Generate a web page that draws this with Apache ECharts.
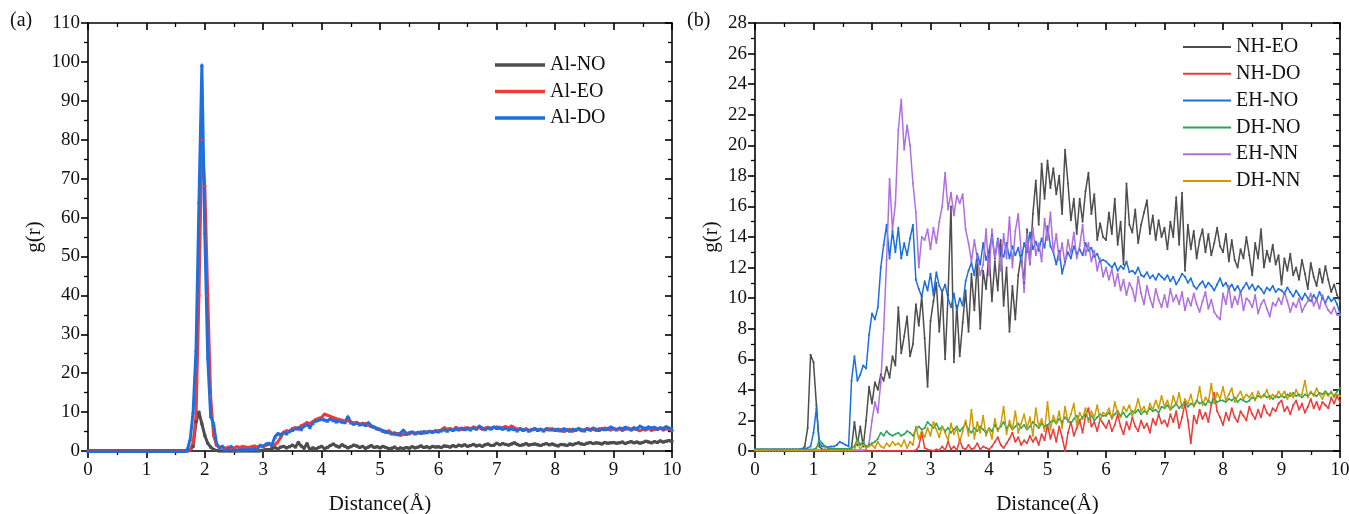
<!DOCTYPE html>
<html>
<head>
<meta charset="utf-8">
<script src="https://cdn.jsdelivr.net/npm/echarts@6/dist/echarts.min.js"></script>
<style>html,body{margin:0;padding:0;background:#fff;}#c{width:1349px;height:514px;}</style>
</head>
<body>
<div id="c"></div>
<script>
// ---------- DATA ----------
// sampling grid: distance 0..10 Å, step 0.05 (201 points)
const STEP = 0.05;
const xTicksA = [0,1,2,3,4,5,6,7,8,9,10];
const yTicksA = [0,10,20,30,40,50,60,70,80,90,100,110];
const yTicksB = [0,2,4,6,8,10,12,14,16,18,20,22,24,26,28];

// Panel (a)
const alNO = [
0,0,0,0,0,0,0,0,0,0,0,0,0,0,0,0,0,0,0,0,
0,0,0,0,0,0,0,0,0,0,0,0,0,0,0,0.2,1.2,7.5,10,7,
4,2,1,0.4,0.1,0,0,0,0,0,0,0,0,0,0,0,0,0,0,0.05,
0.2,0.4,0.3,0.6,0.9,0.5,1.0,1.2,0.8,1.1,1.5,1.0,2.2,1.3,0.7,1.9,0.3,0.8,0.5,0.9,
1.2,0.6,0.9,1.4,1.8,1.3,1.0,1.6,1.2,0.8,1.1,1.5,1.3,0.9,1.2,0.7,1.0,1.4,0.9,1.1,
0.8,1.2,0.9,0.6,0.7,1.0,0.5,0.8,0.6,0.9,0.7,1.1,0.8,1.0,1.3,0.9,1.1,0.8,1.2,1.0,
1.1,0.9,1.3,1.2,1.0,1.4,1.1,1.5,1.3,1.6,1.2,1.4,1.7,1.3,1.5,1.2,1.6,1.8,1.4,1.5,
2.0,1.6,1.9,1.7,1.5,1.8,2.1,1.7,1.4,1.6,1.9,1.5,1.7,1.8,1.6,1.4,1.7,1.9,1.6,1.8,
1.5,1.3,1.7,1.6,1.4,1.8,1.6,1.9,2.1,1.8,1.7,2.0,2.2,1.9,2.1,2.0,1.8,2.2,2.0,2.1,
2.2,2.0,2.1,2.3,1.9,2.2,2.4,2.1,2.3,2.0,2.2,2.5,2.3,2.1,2.4,2.2,2.6,2.3,2.5,2.7,
2.4];
const alEO = [
0,0,0,0,0,0,0,0,0,0,0,0,0,0,0,0,0,0,0,0,
0,0,0,0,0,0,0,0,0,0,0,0,0,0,0,0.3,2,9,40,80,
68,40,14,4,1.5,0.8,1.2,0.6,1.0,0.5,0.8,1.1,0.9,1.2,1.0,0.9,1.1,1.3,1.0,1.4,
1.2,1.5,1.8,1.4,1.6,2.3,3.5,4.8,5.2,5.0,5.8,6.0,5.6,6.5,6.8,7.3,7.0,7.6,8.1,8.4,
8.6,9.5,9.2,8.9,8.6,8.3,8.1,7.9,7.6,7.8,7.5,7.2,7.4,7.0,6.8,7.1,6.6,6.3,6.0,5.7,
5.5,5.0,4.8,5.2,4.6,4.3,4.5,4.0,4.3,4.6,4.4,4.8,4.5,4.7,4.9,4.6,4.8,5.0,4.9,5.1,
5.2,5.4,6.0,5.6,5.8,5.4,6.1,5.7,5.5,5.9,6.0,5.7,6.2,5.8,6.0,5.6,5.9,6.1,5.7,6.0,
6.2,5.8,6.0,6.3,5.9,6.4,6.0,5.6,5.8,5.4,5.7,5.3,5.5,5.8,5.4,5.6,5.2,5.5,5.7,5.4,
5.6,5.2,5.5,5.0,5.3,5.6,5.1,5.4,5.7,5.2,5.5,5.8,5.4,5.6,5.3,5.7,5.5,5.9,5.6,5.4,
5.8,5.5,5.7,5.3,5.6,5.9,5.4,5.7,5.5,5.2,5.6,5.4,5.8,5.3,5.6,5.5,5.9,5.4,5.7,5.5,
5.3];
const alDO = [
0,0,0,0,0,0,0,0,0,0,0,0,0,0,0,0,0,0,0,0,
0,0,0,0,0,0,0,0,0,0,0,0,0,0,0.3,3,10,26,64,99.3,
56,24,9,7,2,0.8,1.2,0.4,0.6,1.2,0.3,0.2,0.3,0.4,0.3,0.5,0.4,0.6,0.5,1.5,
1.2,1.8,2.0,1.6,3.6,4.5,4.2,4.8,4.5,5.1,5.4,5.8,6.0,5.6,6.5,6.8,6.1,7.2,7.8,8.0,
8.2,8.0,7.8,8.3,7.9,7.6,7.8,7.5,7.4,8.9,7.3,7.0,7.2,6.8,7.1,6.7,7.3,6.5,6.2,5.8,
5.6,5.2,5.0,4.8,4.5,4.7,4.3,4.6,5.4,4.4,4.7,4.9,4.5,4.8,4.6,5.0,4.8,5.1,4.9,5.2,
5.0,5.3,5.5,5.2,5.6,5.4,5.7,5.5,5.9,5.6,5.8,5.5,6.0,5.7,6.4,5.9,5.6,6.0,5.8,6.2,
5.9,6.1,5.7,5.9,5.5,5.8,5.6,5.3,5.7,5.4,5.6,5.2,5.5,5.7,5.4,5.6,5.3,5.8,5.5,5.7,
5.4,5.6,5.3,5.7,5.5,5.2,5.6,5.4,5.8,5.5,5.3,5.7,5.5,5.9,5.6,5.4,5.8,5.6,5.7,6.2,
5.8,5.5,5.9,5.7,6.1,5.8,5.6,6.0,5.7,6.4,6.0,5.8,6.2,5.9,6.1,5.7,6.0,5.8,6.3,5.9,
5.6];

// Panel (b)
const nhEO = [
0.1,0.1,0.1,0.1,0.1,0.1,0.1,0.1,0.1,0.1,0.1,0.1,0.1,0.1,0.1,0.1,0.1,0.3,1.5,6.3,
5.8,3.0,0.3,0.1,0.1,0.1,0.1,0.1,0.1,0.1,0.1,0.1,0.1,0.2,1.9,0.4,1.6,0.3,2.0,4.2,
3.1,4.5,4.0,5.0,4.6,5.5,4.8,6.2,5.6,9.4,6.4,7.5,8.8,6.2,7.0,9.6,8.2,10.1,7.4,4.2,
8.5,9.8,11.0,7.8,10.5,6.0,10.2,16.0,5.8,9.5,6.2,8.4,10.5,7.8,11.6,9.2,12.5,8.0,11.8,10.6,
13.0,9.8,12.4,10.5,13.8,9.5,12.0,7.8,10.8,8.6,11.5,12.8,11.0,14.5,12.2,15.5,17.7,14.8,18.8,16.5,
19.0,17.2,18.5,16.8,18.0,15.5,19.7,17.5,15.1,16.5,14.2,16.5,15.0,17.0,18.2,15.5,16.8,13.8,14.9,14.0,
13.8,15.6,14.2,16.5,13.5,15.0,12.2,17.5,14.8,14.3,15.8,13.6,14.8,15.6,16.4,14.2,15.4,13.8,15.1,14.0,
14.6,13.2,15.0,14.0,16.6,13.5,16.9,11.8,14.8,13.2,14.4,12.6,13.8,14.5,13.0,14.2,12.8,13.6,14.6,13.4,
13.0,14.2,12.4,13.8,12.5,12.0,13.2,12.6,14.0,12.8,11.5,13.6,12.6,14.5,12.0,13.1,12.4,13.5,12.2,12.8,
10.9,12.6,11.8,12.9,11.5,12.0,11.2,12.5,11.6,10.6,12.3,11.4,10.8,11.9,11.0,12.1,11.2,10.4,10.9,10.2,
9.8];
const nhDO = [
0,0,0,0,0,0,0,0,0,0,0,0,0,0,0,0,0,0,0,0,
0,0,0,0,0,0,0,0,0,0,0,0,0,0,0,0,0,0,0,0,
0,0,0,0,0,0,0,0,0,0,0,0,0,0,0.02,0.05,0.3,1.2,0.2,0.1,
0.05,0.02,0.1,0.05,0.3,0.05,0.6,0.1,0.3,0.05,0.7,0.2,0.1,0.4,0.1,0.2,0.5,0.1,0.3,0.2,
0.1,0.3,0.6,0.9,0.4,0.2,0.5,0.8,1.2,0.6,0.9,0.4,0.7,0.5,1.0,0.6,0.9,0.4,1.1,0.7,
1.7,0.8,1.4,0.6,1.6,0.9,0.0,1.2,1.9,1.0,1.5,2.0,1.2,2.3,2.8,1.6,1.9,1.3,2.1,1.8,
1.5,2.0,1.3,1.7,2.4,1.6,1.1,1.9,1.4,2.2,1.6,1.3,2.0,1.5,1.8,1.2,2.1,1.7,2.4,1.8,
2.0,1.6,2.4,1.9,2.6,1.5,2.2,3.1,2.0,0.5,2.3,1.8,2.7,2.1,2.5,1.9,3.0,3.8,2.6,2.2,
1.7,2.5,2.0,2.8,2.2,1.9,2.6,2.3,2.0,2.9,2.4,2.1,2.7,2.2,3.0,2.5,2.3,2.8,2.6,3.1,
3.3,2.6,2.9,2.4,3.0,3.3,2.7,3.1,2.5,2.9,3.4,2.8,3.2,2.7,3.2,3.0,2.8,3.5,3.1,3.6,
3.2];
const ehNO = [
0.1,0.1,0.1,0.1,0.1,0.1,0.1,0.1,0.1,0.1,0.1,0.1,0.1,0.1,0.1,0.1,0.15,0.15,0.2,0.3,
1.2,2.8,0.5,0.3,0.3,0.25,0.3,0.3,0.4,0.6,0.5,0.4,0.3,4.6,6.2,4.6,5.0,5.6,5.4,7.6,
9.0,8.6,9.4,12.0,13.5,14.8,12.6,14.4,13.0,14.6,12.6,13.6,12.8,13.9,14.8,11.2,10.6,10.1,11.1,10.5,
11.6,10.2,11.7,10.8,10.4,10.9,10.0,9.4,10.3,9.2,10.0,9.5,11.1,11.8,12.3,11.5,12.9,12.2,13.6,12.5,
13.1,14.1,12.6,13.9,13.0,12.7,13.6,12.6,13.4,12.8,13.3,12.4,13.6,13.0,14.3,13.2,13.7,13.1,13.9,13.3,
14.7,13.4,13.0,12.2,13.1,11.6,12.4,13.0,12.6,13.4,12.9,13.2,12.8,13.6,13.1,13.3,12.7,12.9,12.4,12.5,
12.4,12.2,12.0,12.3,11.8,12.1,11.9,12.4,11.7,11.8,11.6,12.0,11.5,11.4,11.7,11.3,11.5,11.2,11.6,11.4,
11.2,11.5,11.1,11.4,10.9,11.2,11.6,11.4,11.0,11.3,10.8,10.6,10.9,11.1,10.7,11.0,10.8,10.5,10.9,11.3,
10.8,11.0,10.6,10.9,10.5,10.8,10.4,10.7,11.0,10.6,10.9,10.5,10.8,10.6,10.3,10.7,10.5,10.8,10.4,10.6,
10.5,10.3,10.7,10.4,10.1,10.5,10.2,9.9,10.3,10.0,9.8,10.2,9.9,10.4,10.0,9.7,10.1,9.8,10.0,9.6,
9.0];
const dhNO = [
0.1,0.1,0.1,0.1,0.1,0.1,0.1,0.1,0.1,0.1,0.1,0.1,0.1,0.1,0.1,0.1,0.1,0.1,0.1,0.1,
0.1,0.2,0.7,0.5,0.3,0.2,0.15,0.15,0.15,0.15,0.15,0.15,0.15,0.2,0.3,0.8,0.4,0.6,0.3,0.4,
0.5,0.6,0.8,1.2,1.0,1.3,1.1,1.0,1.1,1.2,1.0,1.1,1.3,1.2,1.0,1.4,1.6,1.4,1.5,1.9,
1.7,1.5,1.8,1.4,1.6,1.3,1.5,1.2,1.4,1.6,1.3,1.5,1.8,1.4,1.2,1.5,1.3,1.6,1.4,1.2,
1.5,1.3,1.7,1.4,1.6,1.9,1.5,1.7,1.4,1.6,1.8,1.5,1.7,1.4,1.6,1.9,1.7,1.5,1.8,1.6,
1.7,1.9,2.0,1.8,2.1,1.9,2.2,2.0,1.8,2.1,2.3,2.0,2.2,2.4,2.1,2.3,2.0,2.2,2.4,2.3,
2.3,2.5,2.2,2.4,2.6,2.3,2.5,2.2,2.4,2.6,2.5,2.7,2.4,2.6,2.5,2.8,2.6,2.7,2.5,2.9,
2.8,3.0,2.7,2.9,3.1,2.8,3.0,3.2,2.9,3.1,3.0,3.3,3.1,3.2,3.0,3.3,3.1,3.4,3.2,3.3,
3.3,3.2,3.4,3.3,3.5,3.2,3.4,3.3,3.2,3.3,3.5,3.4,3.6,3.5,3.7,3.5,3.6,3.4,3.6,3.5,
3.6,3.5,3.7,3.6,3.8,3.6,3.7,3.5,3.7,3.6,3.8,3.7,3.6,3.8,3.7,3.9,3.7,3.8,3.6,3.9,
4.1];
const ehNN = [
0.05,0.05,0.05,0.05,0.05,0.05,0.05,0.05,0.05,0.05,0.05,0.05,0.05,0.05,0.05,0.05,0.05,0.05,0.05,0.05,
0.05,0.05,0.05,0.05,0.05,0.05,0.05,0.05,0.05,0.05,0.05,0.05,0.05,0.05,0.05,0.05,0.05,0.05,0.1,0.5,
2.0,3.2,2.5,4.5,8.0,12.5,17.8,14.5,16.2,21.0,23.0,19.7,21.3,20.0,17.5,15.6,12.0,14.0,13.8,14.5,
13.2,14.6,13.6,15.0,16.0,18.2,15.8,16.9,15.4,16.7,16.2,16.8,14.5,13.6,12.4,13.8,12.6,11.5,12.2,14.5,
11.5,14.5,12.5,13.8,11.8,14.2,12.6,15.3,12.0,14.4,15.5,13.0,10.4,14.2,12.2,14.6,12.8,13.6,12.4,15.2,
13.8,15.6,13.0,14.2,12.5,13.6,12.2,13.8,12.9,14.3,12.6,13.4,14.8,12.8,13.6,12.4,13.1,11.8,12.6,11.4,
12.0,11.2,11.9,10.8,11.6,10.5,11.2,10.2,11.0,10.6,9.8,11.4,10.3,9.6,10.8,10.0,9.4,10.6,9.9,9.4,
10.2,9.4,10.6,9.8,10.2,9.6,10.4,9.2,10.0,9.5,10.3,9.6,9.1,9.8,10.4,9.3,9.9,9.1,8.8,8.6,
10.3,9.6,10.8,9.4,10.1,9.6,10.5,9.2,10.0,9.8,9.4,10.2,9.0,9.6,9.9,9.3,8.8,9.7,9.5,10.0,
9.6,10.4,9.8,9.1,9.7,9.4,10.0,9.1,9.5,9.8,10.3,9.5,9.9,9.3,10.2,9.6,9.2,9.0,9.4,8.9,
8.9];
const dhNN = [
0.05,0.05,0.05,0.05,0.05,0.05,0.05,0.05,0.05,0.05,0.05,0.05,0.05,0.05,0.05,0.05,0.05,0.05,0.05,0.05,
0.05,0.05,0.05,0.05,0.05,0.05,0.05,0.05,0.05,0.05,0.05,0.05,0.05,0.05,0.1,0.6,0.1,0.4,0.2,0.3,
0.4,0.2,0.6,0.3,0.2,0.5,0.3,0.6,0.4,0.5,0.3,0.7,0.2,0.6,0.4,1.6,0.8,1.3,0.9,1.5,
1.0,1.9,1.4,0.9,1.6,1.2,0.7,1.8,1.1,1.5,0.6,1.3,2.0,1.0,2.7,0.8,1.9,1.2,2.3,1.0,
1.5,0.8,2.1,1.3,1.7,2.9,1.1,2.0,1.4,2.6,1.2,1.8,2.4,1.5,2.2,1.0,2.8,1.6,2.1,1.3,
3.2,1.4,2.3,1.8,2.6,1.5,2.9,1.9,2.4,3.1,1.7,2.5,2.1,2.8,1.9,2.6,2.2,3.0,2.0,2.5,
2.4,2.8,2.1,3.2,2.5,2.2,2.9,2.6,3.0,2.3,2.7,3.4,2.6,2.9,2.4,3.1,2.7,3.3,2.8,3.6,
2.9,3.3,2.7,3.6,3.0,3.8,2.8,3.4,3.1,3.7,2.9,3.2,4.2,3.0,3.5,3.2,4.4,3.1,3.8,3.4,
4.2,3.3,3.7,4.1,3.2,3.6,3.9,3.4,3.7,3.5,3.8,3.3,3.9,3.5,3.6,4.0,3.4,3.7,3.5,3.9,
3.6,3.9,3.4,3.8,3.5,4.0,3.6,3.7,4.6,3.5,3.9,3.6,4.1,3.7,3.4,3.8,3.6,3.9,3.5,3.7,
3.6];

// ---------- CHART ----------
const FONT = 'Liberation Serif';
const TXT = '#111';
function pts(vals){ return vals.map((v,i)=>[Math.round(i*STEP*100)/100, v]); }

function xAx(gi, pos){
  const top = pos === 'top';
  return {
    type:'value', gridIndex:gi, position:pos, min:0, max:10, interval:1,
    axisLine:{show:true, onZero:false, lineStyle:{color:'#000', width:1.6}},
    axisTick:{show:true, inside:top, length:7, lineStyle:{color:'#000', width:1.6}},
    minorTick:{show:true, splitNumber:2, length:4, lineStyle:{color:'#000', width:1.3}},
    axisLabel:{show:!top, fontFamily:FONT, fontSize:19, color:TXT, margin:10},
    splitLine:{show:false},
    name: top ? '' : 'Distance(Å)', nameLocation:'middle', nameGap:43,
    nameTextStyle:{fontFamily:FONT, fontSize:21, color:TXT}
  };
}
function yAx(gi, pos, max, interval){
  const right = pos === 'right';
  return {
    type:'value', gridIndex:gi, position:pos, min:0, max:max, interval:interval,
    axisLine:{show:true, onZero:false, lineStyle:{color:'#000', width:1.6}},
    axisTick:{show:true, inside:right, length:7, lineStyle:{color:'#000', width:1.6}},
    minorTick:{show:true, splitNumber:2, length:4, lineStyle:{color:'#000', width:1.3}},
    axisLabel:{show:!right, fontFamily:FONT, fontSize:19, color:TXT, margin:8},
    splitLine:{show:false},
    name: right ? '' : 'g(r)', nameLocation:'middle', nameGap: gi===0 ? 43 : 33,
    nameTextStyle:{fontFamily:FONT, fontSize:21, color:TXT}
  };
}

function lineA(name, data, color, symbol, ss){
  return {name, type:'line', xAxisIndex:0, yAxisIndex:0, data:pts(data),
    symbol, symbolSize:ss, showSymbol:true, itemStyle:{color},
    lineStyle:{color, width:3}, emphasis:{disabled:true}};
}
function lineB(name, data, color){
  return {name, type:'line', xAxisIndex:2, yAxisIndex:2, data:pts(data),
    symbol:'circle', symbolSize:2, showSymbol:true, itemStyle:{color},
    lineStyle:{color, width:1.5}, emphasis:{disabled:true}};
}

const chart = echarts.init(document.getElementById('c'), null, {renderer:'canvas'});
chart.setOption({
  animation:false,
  backgroundColor:'#fff',
  grid:[
    {left:88, right:677, top:23, bottom:63, outerBoundsMode:'none', containLabel:false},
    {left:755, right:9, top:23, bottom:63, outerBoundsMode:'none', containLabel:false}
  ],
  xAxis:[ xAx(0,'bottom'), xAx(0,'top'), xAx(1,'bottom'), xAx(1,'top') ],
  yAxis:[ yAx(0,'left',110,10), yAx(0,'right',110,10), yAx(1,'left',28,2), yAx(1,'right',28,2) ],
  legend:[
    {data:['Al-NO','Al-EO','Al-DO'], orient:'vertical', left:495, top:55, padding:0,
     icon:'rect', itemWidth:50, itemHeight:3.5, itemGap:6.5,
     textStyle:{fontFamily:FONT, fontSize:20, lineHeight:20, color:TXT}},
    {data:['NH-EO','NH-DO','EH-NO','DH-NO','EH-NN','DH-NN'], orient:'vertical', left:1183, top:37, padding:0,
     icon:'rect', itemWidth:48, itemHeight:2, itemGap:6.8,
     textStyle:{fontFamily:FONT, fontSize:20, lineHeight:20, color:TXT}}
  ],
  graphic:[
    {type:'text', left:10, top:11, style:{text:'(a)', font:'20px "Liberation Serif"', fill:TXT}},
    {type:'text', left:687, top:11, style:{text:'(b)', font:'20px "Liberation Serif"', fill:TXT}}
  ],
  series:[
    lineA('Al-NO', alNO, '#4d4d4d', 'rect', 3),
    lineA('Al-EO', alEO, '#ef3b3b', 'circle', 3),
    lineA('Al-DO', alDO, '#1b6fe0', 'triangle', 4),
    lineB('NH-EO', nhEO, '#4d4d4d'),
    lineB('NH-DO', nhDO, '#f03a3a'),
    lineB('EH-NO', ehNO, '#1b6fe0'),
    lineB('DH-NO', dhNO, '#2aa55a'),
    lineB('EH-NN', ehNN, '#b06fe0'),
    lineB('DH-NN', dhNN, '#cf9c00')
  ]
});
</script>
</body>
</html>
